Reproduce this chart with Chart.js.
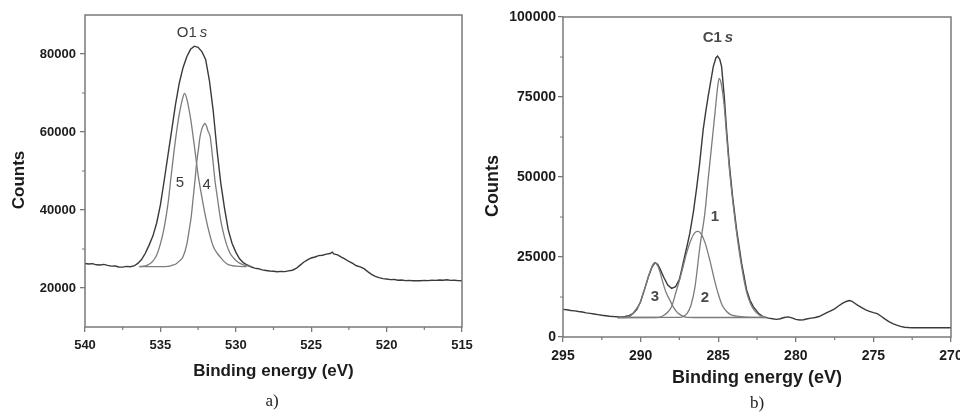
<!DOCTYPE html>
<html>
<head>
<meta charset="utf-8">
<title>XPS O1s / C1s</title>
<script src="https://cdn.jsdelivr.net/npm/chart.js@4.4.0/dist/chart.umd.min.js"></script>
<style>
  html, body { margin: 0; padding: 0; background: #fff; }
  #wrap { position: relative; width: 960px; height: 417px; overflow: hidden; }
  .panel { position: absolute; top: 0; width: 480px; height: 417px; }
  #panelA { left: 0; }
  #panelB { left: 480px; }
  .caption {
    position: absolute;
    font: 17px 'Liberation Serif', 'Times New Roman', serif;
    color: #222;
    transform: translate(-50%, -50%);
  }
</style>
</head>
<body>
<div id="wrap">
  <div class="panel" id="panelA"><canvas id="chartA"></canvas></div>
  <div class="panel" id="panelB"><canvas id="chartB"></canvas></div>
  <div class="caption" style="left:272px;top:401px">a)</div>
  <div class="caption" style="left:757px;top:403px">b)</div>
</div>
<script>
// ---- O1s region (panel a) ----
const o1sEnergy = [
  540.00, 539.75, 539.50, 539.25, 539.00, 538.75, 538.50, 538.25, 538.00, 537.75,
  537.50, 537.25, 537.00, 536.75, 536.50, 536.25, 536.00, 535.75, 535.50, 535.25,
  535.00, 534.75, 534.50, 534.25, 534.00, 533.75, 533.50, 533.25, 533.00, 532.75,
  532.50, 532.25, 532.00, 531.75, 531.50, 531.25, 531.00, 530.75, 530.50, 530.25,
  530.00, 529.75, 529.50, 529.25, 529.00, 528.75, 528.50, 528.25, 528.00, 527.75,
  527.50, 527.25, 527.00, 526.75, 526.50, 526.25, 526.00, 525.75, 525.50, 525.25,
  525.00, 524.75, 524.50, 524.25, 524.00, 523.75, 523.60, 523.50, 523.25, 523.00,
  522.75, 522.50, 522.25, 522.00, 521.75, 521.50, 521.25, 521.00, 520.75, 520.50,
  520.25, 520.00, 519.75, 519.50, 519.25, 519.00, 518.75, 518.50, 518.25, 518.00,
  517.75, 517.50, 517.25, 517.00, 516.75, 516.50, 516.25, 516.00, 515.75, 515.50,
  515.25, 515.00
];
const o1sCounts = [
  26300, 26150, 26250, 25950, 25900, 26050, 25800, 25600, 25650, 25400,
  25350, 25550, 25450, 25650, 26300, 27300, 28900, 31000, 33300, 36600,
  41300, 47500, 54000, 60500, 67000, 72500, 76500, 79300, 81200, 82000,
  81700, 80600, 78600, 73200, 65500, 55500, 47000, 40500, 34900, 31500,
  29200, 27500, 26500, 25900, 25450, 25100, 24950, 24650, 24500, 24350,
  24300, 24150, 24250, 24200, 24400, 24550, 25000, 25800, 26600, 27200,
  27700, 27950, 28300, 28400, 28700, 28850, 29200, 28750, 28500, 27900,
  27400, 26800, 26300, 25700, 25400, 24950, 24200, 23500, 23000, 22650,
  22400, 22300, 22150, 22200, 22000, 22050, 21900, 21950, 21850, 21900,
  21850, 21950, 21900, 22000, 21950, 22050, 22000, 22100, 21950, 22000,
  21900, 21850
];
const peak5Energy = [
  536.40, 536.00, 535.75, 535.50, 535.25, 535.00, 534.75, 534.50, 534.25, 534.00,
  533.75, 533.50, 533.40, 533.25, 533.00, 532.75, 532.50, 532.25, 532.00, 531.75,
  531.50, 531.25, 531.00, 530.75, 530.50, 530.00, 529.50, 529.30
];
const peak5Counts = [
  25500, 25700, 26100, 26900, 28400, 31300, 35500, 41500, 50000, 58000,
  64500, 69000, 69900, 68500, 63500, 56500, 49000, 43300, 38200, 34000,
  30700, 29000, 27800, 26700, 26000, 25600, 25500, 25500
];
const peak4Energy = [
  536.40, 535.00, 534.50, 534.15, 534.00, 533.75, 533.50, 533.25, 533.09, 532.95,
  532.82, 532.70, 532.60, 532.48, 532.37, 532.25, 532.10, 532.04, 531.95, 531.85,
  531.70, 531.50, 531.38, 531.23, 531.05, 530.87, 530.60, 530.38, 530.15, 529.95,
  529.72, 529.40, 529.06
];
const peak4Counts = [
  25500, 25500, 25550, 25900, 26100, 26900, 28000, 31200, 34900, 38500,
  43400, 47800, 52000, 55500, 58800, 60800, 62000, 62200, 61600, 60300,
  58800, 52000, 47500, 43400, 38500, 34900, 31000, 28900, 27700, 26900,
  26300, 25800, 25550
];

// ---- C1s region (panel b) ----
const c1sEnergy = [
  295.00, 294.75, 294.50, 294.25, 294.00, 293.75, 293.50, 293.25, 293.00, 292.75,
  292.50, 292.25, 292.00, 291.75, 291.50, 291.25, 291.00, 290.75, 290.50, 290.25,
  290.00, 289.75, 289.50, 289.25, 289.08, 288.90, 288.75, 288.50, 288.25, 288.00,
  287.75, 287.50, 287.36, 287.25, 287.00, 286.83, 286.60, 286.39, 286.20, 285.97,
  285.80, 285.65, 285.50, 285.32, 285.15, 285.04, 284.90, 284.78, 284.61, 284.46,
  284.29, 284.07, 283.81, 283.49, 283.17, 282.95, 282.74, 282.40, 282.10, 281.75,
  281.50, 281.25, 281.00, 280.75, 280.50, 280.25, 280.00, 279.75, 279.50, 279.25,
  279.00, 278.75, 278.50, 278.25, 278.00, 277.75, 277.50, 277.25, 277.00, 276.75,
  276.55, 276.40, 276.25, 276.00, 275.75, 275.50, 275.25, 275.00, 274.75, 274.50,
  274.25, 274.00, 273.75, 273.50, 273.25, 273.00, 272.75, 272.50, 272.00, 271.50,
  271.00, 270.50, 270.00
];
const c1sCounts = [
  8650, 8500, 8300, 8150, 7950, 7800, 7550, 7400, 7200, 7000,
  6800, 6650, 6500, 6400, 6350, 6300, 6400, 6700, 7300, 8600,
  11000, 14800, 18800, 22000, 23200, 22700, 21300, 18600, 16200, 15200,
  15700, 18000, 20900, 23300, 28600, 32400, 39000, 46500, 54000, 64700,
  70500, 75100, 79300, 84400, 87200, 87800, 86800, 84500, 75100, 64700,
  54300, 43800, 33400, 23000, 14700, 11500, 9500, 7400, 6300, 5900,
  5700, 5500, 5700, 6100, 6300, 6000, 5500, 5300, 5400, 5700,
  5900, 6100, 6400, 7000, 7600, 8200, 8800, 9700, 10500, 11100,
  11400, 11200, 10700, 9900, 9200, 8500, 8000, 7600, 7300, 6500,
  5600, 4800, 4200, 3700, 3300, 3050, 2950, 2900, 2900, 2900,
  2900, 2900, 2900
];
const peak1Energy = [
  291.50, 287.50, 287.00, 286.75, 286.50, 286.18, 285.86, 285.65, 285.43, 285.21,
  285.05, 284.94, 284.80, 284.61, 284.46, 284.29, 284.07, 283.81, 283.49, 283.17,
  282.95, 282.74, 282.40, 282.10, 281.90
];
const peak1Counts = [
  6100, 6150, 7400, 10000, 15500, 28200, 38700, 49100, 59500, 69900,
  77500, 80800, 79000, 72000, 63000, 53000, 42800, 32400, 22000, 14000,
  10800, 8800, 7000, 6300, 6100
];
const peak2Energy = [
  291.50, 289.00, 288.75, 288.50, 288.23, 288.00, 287.68, 287.50, 287.25, 287.04,
  286.75, 286.50, 286.30, 286.10, 285.85, 285.54, 285.25, 285.00, 284.75, 284.50,
  284.20, 283.80, 283.20, 281.90
];
const peak2Counts = [
  6100, 6100, 6250, 6800, 7900, 9500, 14700, 17600, 22200, 26150,
  30400, 32600, 33000, 32200, 29500, 24000, 18000, 13500, 10000, 8200,
  7000, 6500, 6200, 6100
];
const peak3Energy = [
  291.50, 291.00, 290.75, 290.59, 290.35, 290.05, 289.85, 289.62, 289.40, 289.20,
  289.08, 288.90, 288.75, 288.55, 288.35, 288.12, 287.85, 287.58, 287.30, 287.04,
  286.50, 281.90
];
const peak3Counts = [
  6100, 6100, 6300, 6875, 8300, 10530, 13500, 16800, 20300, 22700,
  23200, 22300, 20300, 16800, 13800, 11560, 9000, 7400, 6600, 6150,
  6100, 6100
];

// ---- axes ----
const xTicksA = [540, 535, 530, 525, 520, 515];
const xMinorA = [537.5, 532.5, 527.5, 522.5, 517.5];
const yTicksA = [20000, 40000, 60000, 80000];
const yMinorA = [30000, 50000, 70000];
const xTicksB = [295, 290, 285, 280, 275, 270];
const xMinorB = [292.5, 287.5, 282.5, 277.5, 272.5];
const yTicksB = [0, 25000, 50000, 75000, 100000];
const yMinorB = [12500, 37500, 62500, 87500];

// peak labels: [energy, counts, text, italic tail]
const labelsA = [
  [532.9, 85400, 'O1', 's'],
  [533.7, 47000, '5', ''],
  [531.93, 46400, '4', '']
];
const labelsB = [
  [285.02, 93400, 'C1', 's'],
  [285.21, 37600, '1', ''],
  [285.86, 12200, '2', ''],
  [289.08, 12500, '3', '']
];

const AXIS_COLOR = '#7a7a7a';
const TEXT_COLOR = '#1c1c1c';
const SANS = "'Liberation Sans', Arial, Helvetica, sans-serif";

const pts = (xs, ys) => xs.map((x, i) => ({ x, y: ys[i] }));

const measured = (data) => ({
  data, borderColor: '#3a3a3a', borderWidth: 1.4, pointRadius: 0, tension: 0
});
const component = (data) => ({
  data, borderColor: '#7c7c7c', borderWidth: 1.3, pointRadius: 0,
  cubicInterpolationMode: 'monotone'
});

// frame, minor ticks, peak labels and the rotated "Counts" title
const decor = {
  id: 'decor',
  afterDraw(chart, args, opts) {
    const { ctx, chartArea: a, scales: { x, y } } = chart;
    ctx.save();
    ctx.strokeStyle = AXIS_COLOR;
    ctx.lineWidth = 1.5;
    ctx.strokeRect(a.left, a.top, a.right - a.left, a.bottom - a.top);

    ctx.lineWidth = 1.2;
    ctx.beginPath();
    opts.minorX.forEach(v => {
      const px = x.getPixelForValue(v);
      ctx.moveTo(px, a.bottom);
      ctx.lineTo(px, a.bottom + 3);
    });
    opts.minorY.forEach(v => {
      const py = y.getPixelForValue(v);
      ctx.moveTo(a.left, py);
      ctx.lineTo(a.left - 3, py);
    });
    ctx.stroke();

    ctx.textBaseline = 'middle';
    ctx.textAlign = 'left';
    opts.labels.forEach(([e, c, text, tail]) => {
      const px = x.getPixelForValue(e);
      const py = y.getPixelForValue(c);
      const main = `${opts.labelWeight} ${opts.labelSize}px ${SANS}`;
      const ital = `italic ${opts.labelWeight} ${opts.labelSize}px ${SANS}`;
      ctx.font = main;
      const w1 = ctx.measureText(text).width;
      ctx.font = ital;
      const w2 = tail ? ctx.measureText(tail).width + 3 : 0;
      const start = px - (w1 + w2) / 2;
      ctx.fillStyle = opts.labelColor;
      ctx.font = main;
      ctx.fillText(text, start, py);
      if (tail) {
        ctx.font = ital;
        ctx.fillText(tail, start + w1 + 3, py);
      }
    });

    ctx.translate(opts.yTitleX, (a.top + a.bottom) / 2 + opts.yTitleDy);
    ctx.rotate(-Math.PI / 2);
    ctx.font = `bold ${opts.yTitleSize}px ${SANS}`;
    ctx.fillStyle = TEXT_COLOR;
    ctx.textAlign = 'center';
    ctx.fillText('Counts', 0, 0);
    ctx.restore();
  }
};

function makeChart(canvasId, cfg) {
  return new Chart(document.getElementById(canvasId), {
    type: 'line',
    data: { datasets: cfg.datasets },
    plugins: [decor],
    options: {
      responsive: true,
      maintainAspectRatio: false,
      animation: false,
      events: [],
      layout: { padding: cfg.padding },
      plugins: {
        legend: { display: false },
        tooltip: { enabled: false },
        decor: cfg.decor
      },
      scales: {
        x: {
          type: 'linear',
          min: cfg.xMin,
          max: cfg.xMax,
          reverse: true,
          afterBuildTicks: s => { s.ticks = cfg.xTicks.map(v => ({ value: v })); },
          afterFit: s => { s.height = cfg.xHeight; s.paddingLeft = 0; s.paddingRight = 0; },
          border: { display: false },
          grid: { drawOnChartArea: false, drawTicks: true, tickLength: 5, color: AXIS_COLOR, lineWidth: 1.3 },
          ticks: {
            autoSkip: false, maxRotation: 0, padding: cfg.xTickPad,
            color: TEXT_COLOR, font: { family: SANS, size: cfg.tickSize, weight: 'bold' },
            callback: v => String(v)
          },
          title: {
            display: true, text: 'Binding energy (eV)', color: TEXT_COLOR,
            font: { family: SANS, size: cfg.titleSize, weight: 'bold' },
            padding: { top: 0, bottom: cfg.xTitlePad }
          }
        },
        y: {
          type: 'linear',
          min: cfg.yMin,
          max: cfg.yMax,
          afterBuildTicks: s => { s.ticks = cfg.yTicks.map(v => ({ value: v })); },
          afterFit: s => { s.width = cfg.yWidth; s.paddingTop = 0; s.paddingBottom = 0; },
          border: { display: false },
          grid: { drawOnChartArea: false, drawTicks: true, tickLength: 5, color: AXIS_COLOR, lineWidth: 1.3 },
          ticks: {
            padding: cfg.yTickPad,
            color: TEXT_COLOR, font: { family: SANS, size: cfg.tickSize, weight: 'bold' },
            callback: v => String(v)
          }
        }
      }
    }
  });
}

makeChart('chartA', {
  datasets: [
    component(pts(peak5Energy, peak5Counts)),
    component(pts(peak4Energy, peak4Counts)),
    measured(pts(o1sEnergy, o1sCounts))
  ],
  padding: { top: 15, right: 18, left: 0, bottom: 0 },
  xMin: 515, xMax: 540, xTicks: xTicksA,
  yMin: 10000, yMax: 90000, yTicks: yTicksA,
  xHeight: 90, yWidth: 85,
  tickSize: 13, titleSize: 17, xTickPad: 6, yTickPad: 4, xTitlePad: 35,
  decor: {
    minorX: xMinorA, minorY: yMinorA, labels: labelsA,
    labelSize: 15, labelWeight: 'normal', labelColor: '#3c3c3c',
    yTitleX: 19, yTitleDy: 9, yTitleSize: 17
  }
});

makeChart('chartB', {
  datasets: [
    component(pts(peak3Energy, peak3Counts)),
    component(pts(peak2Energy, peak2Counts)),
    component(pts(peak1Energy, peak1Counts)),
    measured(pts(c1sEnergy, c1sCounts))
  ],
  padding: { top: 17, right: 9, left: 0, bottom: 0 },
  xMin: 270, xMax: 295, xTicks: xTicksB,
  yMin: 0, yMax: 100000, yTicks: yTicksB,
  xHeight: 80, yWidth: 83,
  tickSize: 14, titleSize: 18, xTickPad: 6, yTickPad: 2, xTitlePad: 28,
  decor: {
    minorX: xMinorB, minorY: yMinorB, labels: labelsB,
    labelSize: 15, labelWeight: 'bold', labelColor: '#4a4a4a',
    yTitleX: 13, yTitleDy: 9, yTitleSize: 18
  }
});
</script>
</body>
</html>
